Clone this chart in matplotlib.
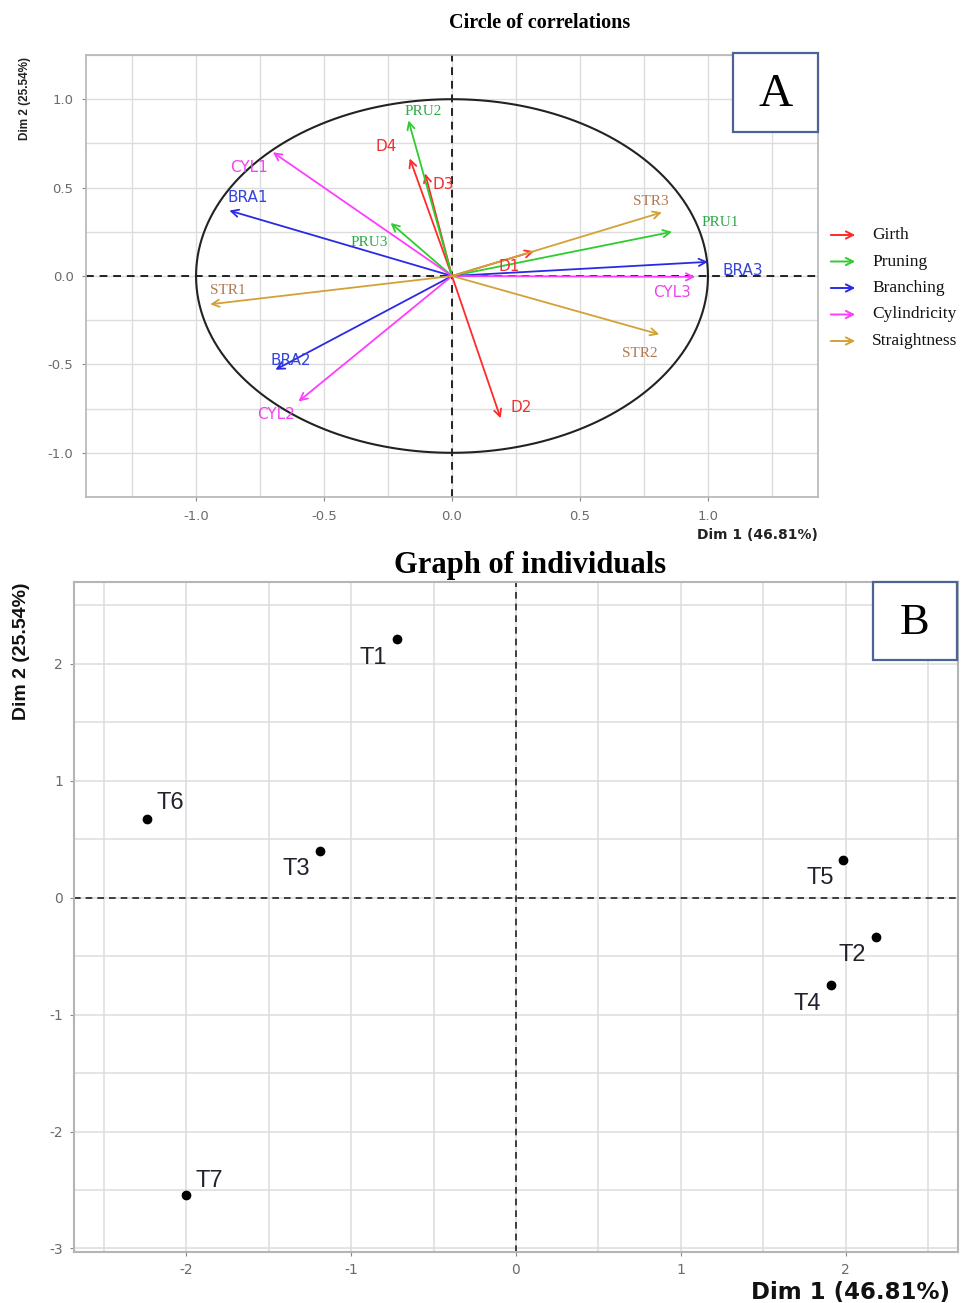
import numpy as np
import matplotlib
matplotlib.use("Agg")
import matplotlib.pyplot as plt
from matplotlib.patches import Rectangle

plt.rcParams['axes.unicode_minus'] = False

# variables on the circle of correlations (Dim 1, Dim 2)
var_names = ['D1', 'D2', 'D3', 'D4',
             'PRU1', 'PRU2', 'PRU3',
             'BRA1', 'BRA2', 'BRA3',
             'CYL1', 'CYL2', 'CYL3',
             'STR1', 'STR2', 'STR3']
var_dim1 = [0.32, 0.19, -0.105, -0.165,
            0.86, -0.17, -0.24,
            -0.87, -0.69, 1.00,
            -0.70, -0.60, 0.95,
            -0.945, 0.81, 0.82]
var_dim2 = [0.14, -0.805, 0.58, 0.665,
            0.25, 0.88, 0.30,
            0.37, -0.53, 0.08,
            0.70, -0.71, -0.005,
            -0.16, -0.33, 0.36]
var_group = ['Girth'] * 4 + ['Pruning'] * 3 + ['Branching'] * 3 + \
            ['Cylindricity'] * 3 + ['Straightness'] * 3

groups = ['Girth', 'Pruning', 'Branching', 'Cylindricity', 'Straightness']

# individuals (treatments)
ind_names = ['T1', 'T2', 'T3', 'T4', 'T5', 'T6', 'T7']
ind_dim1 = [-0.72, 2.18, -1.19, 1.91, 1.98, -2.24, -2.00]
ind_dim2 = [2.21, -0.34, 0.40, -0.75, 0.32, 0.67, -2.54]

# styling
arrow_col = {'Girth': '#ff2a2a', 'Pruning': '#2fcc2f', 'Branching': '#2a2ae6',
             'Cylindricity': '#ff3cff', 'Straightness': '#d2a236'}
text_col = {'Girth': '#f03030', 'Pruning': '#2ea84a', 'Branching': '#3344dd',
            'Cylindricity': '#ee44ee', 'Straightness': '#b07a55'}
serif_groups = ('Pruning', 'Straightness')
var_offset = {'D1': (-25, -15), 'D2': (21, 11), 'D3': (18, -11), 'D4': (-24, 12),
              'PRU1': (48, 9), 'PRU2': (15, 9), 'PRU3': (-21, -20),
              'BRA1': (18, 13), 'BRA2': (15, 9), 'BRA3': (35, -9),
              'CYL1': (-24, -15), 'CYL2': (-22, -13), 'CYL3': (-23, -16),
              'STR1': (18, 14), 'STR2': (-20, -19), 'STR3': (-11, 11)}
ind_offset = {'T1': (-24, -19), 'T2': (-23, -18), 'T3': (-23, -18), 'T4': (-24, -19),
              'T5': (-22, -18), 'T6': (24, 16), 'T7': (23, 14)}

grid_col = '#dcdcdc'
tick_col = '#6a6a6a'
border_col = '#b5b5b5'

fig = plt.figure(figsize=(9.71, 13.03), dpi=100)

# ---------------- A: circle of correlations ----------------
ax1 = fig.add_axes([86 / 971, 1 - 497 / 1303, 732 / 971, 442 / 1303])
ax1.set_xlim(-1.43, 1.43)
ax1.set_ylim(-1.20, 1.22)
ax1.set_xticks([-1.0, -0.5, 0.0, 0.5, 1.0])
ax1.set_yticks([-1.0, -0.5, 0.0, 0.5, 1.0])
ax1.set_xticks(np.arange(-1.25, 1.3, 0.5), minor=True)
ax1.set_yticks(np.arange(-1.25, 1.3, 0.5), minor=True)
ax1.xaxis.set_major_formatter(lambda v, p: f'{v:.1f}')
ax1.yaxis.set_major_formatter(lambda v, p: f'{v:.1f}')
ax1.grid(True, which='both', color=grid_col, lw=1.0)
ax1.set_axisbelow(True)
ax1.tick_params(which='major', length=3, color='#888888', labelcolor=tick_col, labelsize=9.5, pad=6)
ax1.tick_params(which='minor', length=0)
for s in ax1.spines.values():
    s.set_color(border_col)
    s.set_linewidth(1.2)

t = np.linspace(0, 2 * np.pi, 400)
ax1.plot(np.cos(t), np.sin(t), color='#222222', lw=1.5, zorder=2)
ax1.axhline(0, color='#222222', ls=(0, (4, 3)), lw=1.4, zorder=2)
ax1.axvline(0, color='#222222', ls=(0, (4, 3)), lw=1.4, zorder=2)

for name, x, y, g in zip(var_names, var_dim1, var_dim2, var_group):
    ax1.annotate('', xy=(x, y), xytext=(0, 0),
                 arrowprops=dict(arrowstyle='->', color=arrow_col[g], lw=1.3,
                                 shrinkA=0, shrinkB=0, mutation_scale=13), zorder=3)
    fam = 'Liberation Serif' if g in serif_groups else 'DejaVu Sans'
    ax1.annotate(name, xy=(x, y), xytext=var_offset[name], textcoords='offset pixels',
                 ha='center', va='center', color=text_col[g], fontsize=11,
                 family=fam, zorder=4)

ax1.text(1.0, -0.085, 'Dim 1 (46.81%)', transform=ax1.transAxes, ha='right', va='center',
         fontsize=10, fontweight='bold', color='#222222')
fig.text(25 / 971, 1 - 57 / 1303, 'Dim 2 (25.54%)', rotation=90, ha='center', va='top',
         fontsize=8.5, fontweight='bold', color='#222222', family='Liberation Sans')
fig.text(540 / 971, 1 - 23 / 1303, 'Circle of correlations', ha='center', va='center',
         fontsize=14.5, fontweight='bold', family='Liberation Serif')

# legend drawn beside the panel
for i, g in enumerate(groups):
    yy = 1 - (235 + 26.5 * i) / 1303
    fig.add_artist(matplotlib.patches.FancyArrowPatch(
        (828 / 971, yy), (858 / 971, yy), transform=fig.transFigure,
        arrowstyle='->', color=arrow_col[g], lw=1.4, mutation_scale=13))
    fig.text(872 / 971, yy, g, ha='left', va='center', fontsize=12.5,
             family='Liberation Serif', color='#111111')

# box A
fig.add_artist(Rectangle((733 / 971, 1 - 132 / 1303), 85 / 971, 79 / 1303,
                         transform=fig.transFigure, fc='white', ec='#4a6496', lw=1.6))
fig.text(775.5 / 971, 1 - 95 / 1303, 'A', ha='center', va='center', fontsize=34,
         family='Liberation Serif')

# ---------------- B: graph of individuals ----------------
ax2 = fig.add_axes([74 / 971, 1 - 1252 / 1303, 884 / 971, 670 / 1303])
ax2.set_xlim(-2.68, 2.68)
ax2.set_ylim(-3.03, 2.70)
ax2.set_xticks([-2, -1, 0, 1, 2])
ax2.set_yticks([-3, -2, -1, 0, 1, 2])
ax2.set_xticks(np.arange(-2.5, 2.6, 1.0), minor=True)
ax2.set_yticks(np.arange(-2.5, 2.6, 1.0), minor=True)
ax2.grid(True, which='both', color=grid_col, lw=1.1)
ax2.set_axisbelow(True)
ax2.tick_params(which='major', length=3, color='#888888', labelcolor=tick_col, labelsize=10, pad=5)
ax2.tick_params(which='minor', length=0)
for s in ax2.spines.values():
    s.set_color(border_col)
    s.set_linewidth(1.5)

ax2.axhline(0, color='#222222', ls=(0, (4, 3)), lw=1.2, zorder=2)
ax2.axvline(0, color='#222222', ls=(0, (4, 3)), lw=1.2, zorder=2)
ax2.scatter(ind_dim1, ind_dim2, s=36, color='black', zorder=3)
for name, x, y in zip(ind_names, ind_dim1, ind_dim2):
    ax2.annotate(name, xy=(x, y), xytext=ind_offset[name], textcoords='offset pixels',
                 ha='center', va='center', fontsize=17, color='#23232e',
                 family='Liberation Sans', zorder=4)

fig.text(950 / 971, 1 - 1292 / 1303, 'Dim 1 (46.81%)', ha='right', va='center',
         fontsize=16.5, fontweight='bold', color='#111111', family='DejaVu Sans')
fig.text(22 / 971, 1 - 582 / 1303, 'Dim 2 (25.54%)', rotation=90, ha='center', va='top',
         fontsize=14, fontweight='bold', color='#111111', family='Liberation Sans')
fig.text(530 / 971, 1 - 566 / 1303, 'Graph of individuals', ha='center', va='center',
         fontsize=22, fontweight='bold', family='Liberation Serif')

# box B
fig.add_artist(Rectangle((873 / 971, 1 - 660 / 1303), 84 / 971, 78 / 1303,
                         transform=fig.transFigure, fc='white', ec='#4a6496', lw=1.6))
fig.text(915 / 971, 1 - 623 / 1303, 'B', ha='center', va='center', fontsize=32,
         family='Liberation Serif')

fig.savefig('out.png', dpi=100)
